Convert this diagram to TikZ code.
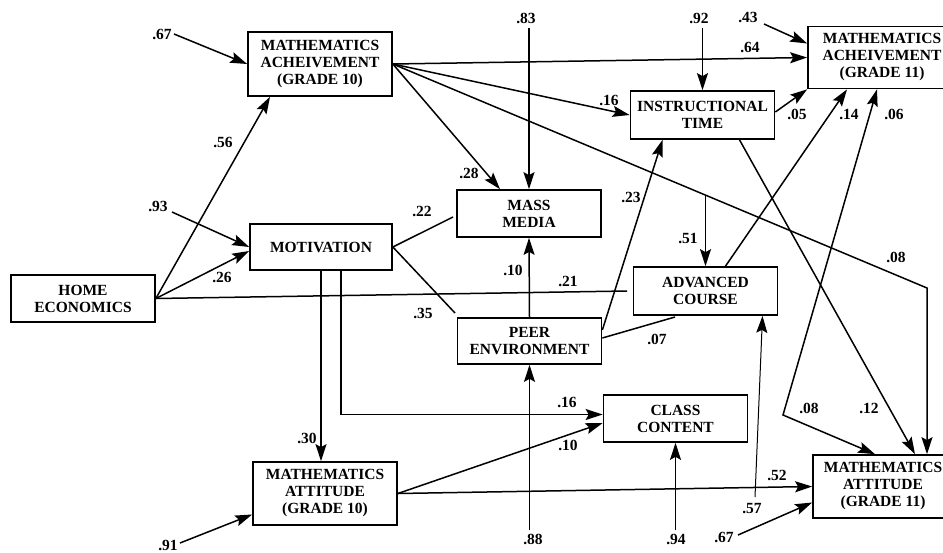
\documentclass[tikz,border=0pt]{standalone}
\usepackage{fontspec}
\setmainfont{Liberation Serif}
\usetikzlibrary{arrows.meta}
\begin{document}
\begin{tikzpicture}[x=1pt,y=1pt,>={Stealth[length=17pt,width=11pt,inset=3pt]}]
\tikzstyle{every node}+=[inner sep=0pt]
\tikzstyle{var}=[draw, line width=1.7pt, align=center, font=\bfseries\fontsize{15.5}{17}\selectfont, minimum width=144pt, minimum height=47pt]
\tikzstyle{coef}=[font=\bfseries\fontsize{15.5}{17}\selectfont]
\tikzstyle{arr}=[line width=1.5pt, ->]
\tikzstyle{lnk}=[line width=1.5pt]
\useasboundingbox (0,0) rectangle (943,-552);
\draw (320,-64) node [var, minimum height=64pt] (ma10) {MATHEMATICS\\ACHEIVEMENT\\(GRADE 10)};
\draw (321,-247) node [var, minimum width=142pt, minimum height=46pt] (motiv) {MOTIVATION};
\draw (83,-298.5) node [var] (home) {HOME\\ECONOMICS};
\draw (325,-493.5) node [var, minimum height=63pt] (att10) {MATHEMATICS\\ATTITUDE\\(GRADE 10)};
\draw (529,-213.5) node [var] (media) {MASS\\MEDIA};
\draw (529.5,-341) node [var, minimum height=46pt] (peer) {PEER\\ENVIRONMENT};
\draw (702.5,-115) node [var, minimum height=48pt] (instr) {INSTRUCTIONAL\\TIME};
\draw (705.5,-291) node [var, minimum height=48pt] (adv) {ADVANCED\\COURSE};
\draw (882,-57.5) node [var, minimum width=148pt, minimum height=62pt] (ma11) {MATHEMATICS\\ACHEIVEMENT\\(GRADE 11)};
\draw (675.5,-418.5) node [var] (class) {CLASS\\CONTENT};
\draw (883,-486.5) node [var, minimum width=140pt, minimum height=63pt] (att11) {MATHEMATICS\\ATTITUDE\\(GRADE 11)};
\coordinate (e67) at (174,-34);
\coordinate (e93) at (172,-212);
\coordinate (e91) at (180,-543);
\coordinate (e83) at (529,-28);
\coordinate (e88) at (529.5,-530);
\coordinate (e92) at (702.5,-28);
\coordinate (e43) at (764,-24);
\coordinate (e57) at (755,-497);
\coordinate (e94) at (675.5,-530);
\coordinate (e67b) at (738,-535);
\coordinate (h21) at (627,-291);
\coordinate (m22) at (453,-217);
\coordinate (m35) at (455,-313);
\coordinate (p07) at (675,-317);
\coordinate (i51) at (705.5,-195);
\coordinate (b08) at (927,-288);
\coordinate (b06) at (783,-415);
\draw [arr] (e67) -- (ma10.west);
\draw [arr] (home.east) -- ([xshift=-50pt]ma10.south);
\draw [arr] (e93) -- (motiv.west);
\draw [arr] (home.east) -- ([yshift=-4pt]motiv.west);
\draw [lnk] (home.east) -- (h21);
\draw [lnk] (motiv.east) -- (m22);
\draw [lnk] (motiv.east) -- (m35);
\draw [arr] (motiv.south) -- (motiv.south |- att10.north);
\draw [arr] ([xshift=20pt]motiv.south) |- ([yshift=4pt]class.west);
\draw [arr] (ma10.east) -- (ma11.west);
\draw [arr] (ma10.east) -- (instr.west);
\draw [arr] (ma10.east) -- ([xshift=-29pt]media.north);
\draw [arr] (ma10.east) -- (b08) -- (b08 |- att11.north);
\draw [arr] (e83) -- (media.north);
\draw [arr] (peer.north) -- (media.south);
\draw [arr] (e88) -- (peer.south);
\draw [arr] (e92) -- (instr.north);
\draw [arr] (e43) -- ([yshift=14pt]ma11.west);
\draw [arr] ([yshift=3pt]instr.east) -- (ma11.south west);
\draw [arr] (i51) -- (adv.north);
\draw [arr] ([yshift=11pt]peer.east) -- ([xshift=-40pt]instr.south);
\draw [lnk] ([yshift=3pt]peer.east) -- (p07);
\draw [arr] ([xshift=20pt]adv.north) -- ([xshift=-35pt]ma11.south);
\draw [arr, line width=1pt] (e57) -- ([xshift=57pt]adv.south);
\draw [arr] (e94) -- (class.south);
\draw [arr] (e67b) -- ([yshift=-16pt]att11.west);
\draw [arr] (e91) -- ([yshift=-21pt]att10.west);
\draw [arr] (att10.east) -- (att11.west);
\draw [arr] (att10.east) -- ([yshift=-4.5pt]class.west);
\draw [arr] ([xshift=37pt]instr.south) -- ([xshift=32pt]att11.north);
\draw [arr, <->] ([xshift=-5pt]ma11.south) -- (b06) -- ([xshift=-8pt]att11.north);
\draw (162,-34) node [coef] (c1) {.67};
\draw (223,-142) node [coef] (c2) {.56};
\draw (158,-206) node [coef] (c3) {.93};
\draw (222,-277) node [coef] (c4) {.26};
\draw (568,-281) node [coef] (c5) {.21};
\draw (422,-211) node [coef] (c6) {.22};
\draw (423,-313) node [coef] (c7) {.35};
\draw (307,-438) node [coef] (c8) {.30};
\draw (567,-402) node [coef] (c9) {.16};
\draw (568,-445) node [coef] (c10) {.10};
\draw (750,-47) node [coef] (c11) {.64};
\draw (609,-100) node [coef] (c12) {.16};
\draw (469,-173) node [coef] (c13) {.28};
\draw (896,-257) node [coef] (c14) {.08};
\draw (526,-18) node [coef] (c15) {.83};
\draw (513,-270) node [coef] (c16) {.10};
\draw (533,-539) node [coef] (c17) {.88};
\draw (699,-18) node [coef] (c18) {.92};
\draw (748,-17) node [coef] (c19) {.43};
\draw (797,-114) node [coef] (c20) {.05};
\draw (849,-114) node [coef] (c21) {.14};
\draw (894,-114) node [coef] (c22) {.06};
\draw (688,-238) node [coef] (c23) {.51};
\draw (631,-197) node [coef] (c24) {.23};
\draw (657,-339) node [coef] (c25) {.07};
\draw (752,-509) node [coef] (c26) {.57};
\draw (676,-539) node [coef] (c27) {.94};
\draw (724,-537) node [coef] (c28) {.67};
\draw (168,-545) node [coef] (c29) {.91};
\draw (777,-475) node [coef] (c30) {.52};
\draw (869,-408) node [coef] (c31) {.12};
\draw (809,-408) node [coef] (c32) {.08};
\end{tikzpicture}
\end{document}
